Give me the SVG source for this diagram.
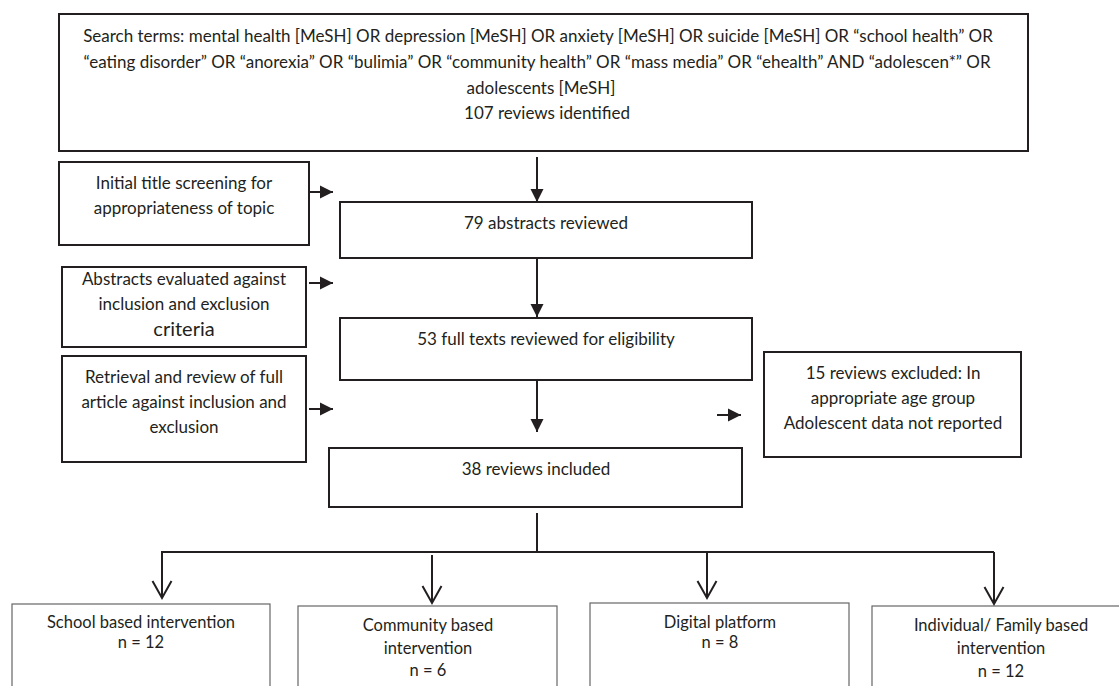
<svg xmlns="http://www.w3.org/2000/svg" width="1119" height="686" viewBox="0 0 1119 686">
<defs>
<marker id="fa" markerUnits="userSpaceOnUse" markerWidth="14" markerHeight="14" refX="13" refY="6.5" orient="auto" overflow="visible"><path d="M0,0 L13,6.5 L0,13 z" fill="#231f20"/></marker>
<marker id="va" markerUnits="userSpaceOnUse" markerWidth="20" markerHeight="22" refX="17" refY="9.5" orient="auto" overflow="visible"><path d="M0,0 L17,9.5 L0,19" fill="none" stroke="#231f20" stroke-width="2"/></marker>
<style>
.b{fill:#fff;stroke:#231f20;stroke-width:2}
.t{fill:#fff;stroke:#666;stroke-width:1.2}
text{font-family:Lato,"Liberation Sans",sans-serif;font-size:17px;fill:#231f20;text-anchor:middle}
.s{font-size:16.5px}
.c{stroke:#231f20;stroke-width:2;fill:none}
.f{marker-end:url(#fa)}
.v{marker-end:url(#va)}
</style>
</defs>
<rect width="1119" height="686" fill="#fff"/>
<g id="search">
<rect class="b" x="59" y="14" width="969" height="137"/>
<text x="538" y="42">Search terms: mental health [MeSH] OR depression [MeSH] OR anxiety [MeSH] OR suicide [MeSH] OR “school health” OR</text>
<text x="537" y="68">“eating disorder” OR “anorexia” OR “bulimia” OR “community health” OR “mass media” OR “ehealth” AND “adolescen*” OR</text>
<text x="541" y="94">adolescents [MeSH]</text>
<text x="547" y="119">107 reviews identified</text>
</g>
<g id="initial">
<rect class="b" x="59" y="162" width="250" height="83"/>
<text x="184" y="189">Initial title screening for</text>
<text x="184" y="214">appropriateness of topic</text>
</g>
<g id="abstracts79">
<rect class="b" x="340" y="202" width="412" height="56"/>
<text x="546" y="229">79 abstracts reviewed</text>
</g>
<g id="evaluated">
<rect class="b" x="62" y="267" width="244" height="80"/>
<text x="184" y="285">Abstracts evaluated against</text>
<text x="184" y="310">inclusion and  exclusion</text>
<text x="184" y="336" style="font-size:20px">criteria</text>
</g>
<g id="fulltexts53">
<rect class="b" x="340" y="318" width="412" height="62"/>
<text x="546" y="345">53 full texts reviewed for eligibility</text>
</g>
<g id="retrieval">
<rect class="b" x="62" y="356" width="244" height="106"/>
<text x="184" y="383">Retrieval and review of full</text>
<text x="184" y="408">article against inclusion and</text>
<text x="184" y="433">exclusion</text>
</g>
<g id="excluded15">
<rect class="b" x="764" y="352" width="257" height="105"/>
<text x="893" y="379">15 reviews excluded: In</text>
<text x="893" y="404">appropriate age group</text>
<text x="893" y="429">Adolescent data not reported</text>
</g>
<g id="included38">
<rect class="b" x="329" y="448" width="413" height="59"/>
<text x="536" y="475">38 reviews included</text>
</g>
<g id="school">
<rect class="t" x="12" y="604" width="258" height="100"/>
<text class="s" x="141" y="628">School based intervention</text>
<text class="s" x="141" y="648">n = 12</text>
</g>
<g id="community">
<rect class="t" x="298" y="606" width="259" height="100"/>
<text class="s" x="428" y="631">Community based</text>
<text class="s" x="428" y="654">intervention</text>
<text class="s" x="428" y="676">n = 6</text>
</g>
<g id="digital">
<rect class="t" x="590" y="603" width="259" height="100"/>
<text class="s" x="720" y="628">Digital platform</text>
<text class="s" x="720" y="648">n = 8</text>
</g>
<g id="individual">
<rect class="t" x="872" y="606" width="258" height="100"/>
<text class="s" x="1001" y="631">Individual/ Family based</text>
<text class="s" x="1001" y="654">intervention</text>
<text class="s" x="1001" y="677">n = 12</text>
</g>
<g id="connectors">
<line class="c f" x1="537" y1="157" x2="537" y2="202"/>
<line class="c f" x1="537" y1="258" x2="537" y2="317"/>
<line class="c f" x1="537" y1="380" x2="537" y2="432"/>
<line class="c f" x1="309" y1="192" x2="333" y2="192"/>
<line class="c f" x1="309" y1="283" x2="333" y2="283"/>
<line class="c f" x1="309" y1="409" x2="333" y2="409"/>
<line class="c f" x1="717" y1="415" x2="741" y2="415"/>
<line class="c" x1="537" y1="513" x2="537" y2="552"/>
<polyline class="c" points="162,598 162,552 994,552"/>
<line class="c v" x1="162" y1="552" x2="162" y2="598"/>
<line class="c v" x1="432" y1="555" x2="432" y2="603"/>
<line class="c v" x1="707" y1="552" x2="707" y2="598"/>
<line class="c v" x1="994" y1="552" x2="994" y2="604"/>
</g>
</svg>
